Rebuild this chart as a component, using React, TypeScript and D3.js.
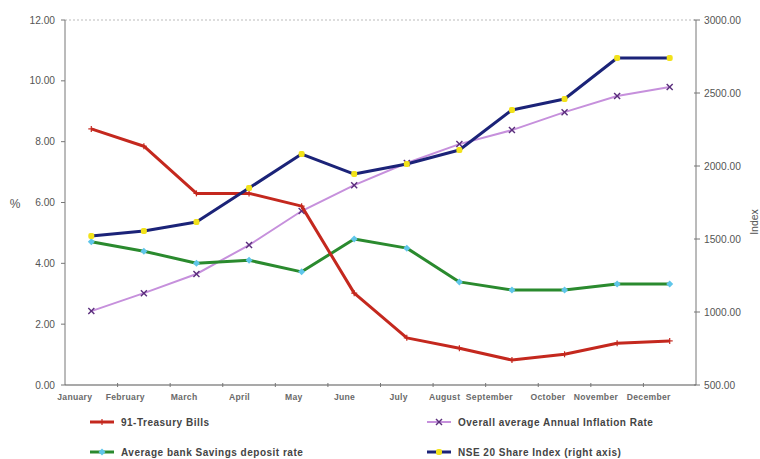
import React from "react";
import * as d3 from "d3";

const months = ["January", "February", "March", "April", "May", "June", "July", "August", "September", "October", "November", "December"];
const treasuryBills = [8.42, 7.85, 6.3, 6.3, 5.88, 3.02, 1.55, 1.21, 0.82, 1.01, 1.37, 1.45];
const inflationRate = [2.43, 3.02, 3.65, 4.6, 5.72, 6.57, 7.3, 7.92, 8.38, 8.97, 9.5, 9.8];
const savingsRate = [4.71, 4.4, 4.0, 4.1, 3.72, 4.8, 4.5, 3.39, 3.12, 3.12, 3.32, 3.32];
const nseIndex = [1521, 1555, 1616, 1849, 2082, 1945, 2014, 2110, 2384, 2459, 2740, 2740];
const leftTicks = [0, 2, 4, 6, 8, 10, 12];
const rightTicks = [500, 1000, 1500, 2000, 2500, 3000];

const W = 760;
const H = 459;
const M = { left: 65, right: 696, top: 20, bottom: 385 };
const FONT = "'Liberation Sans', Arial, sans-serif";

const RED = "#c4281e";
const GREEN = "#2a8a2e";
const NAVY = "#1b2378";
const LAVENDER = "#c690dc";
const PLUM = "#5b2f7d";
const CYAN = "#5fc6ea";
const YELLOW = "#f2e21a";

export default function App() {
  const x = d3.scaleBand<string>().domain(months).range([M.left, M.right]);
  const cx = (m: string) => (x(m) ?? 0) + x.bandwidth() / 2;
  const yL = d3.scaleLinear().domain([0, 12]).range([M.bottom, M.top]);
  const yR = d3.scaleLinear().domain([500, 3000]).range([M.bottom, M.top]);

  const lineL = d3
    .line<number>()
    .x((_, i) => cx(months[i]))
    .y((d) => yL(d));
  const lineR = d3
    .line<number>()
    .x((_, i) => cx(months[i]))
    .y((d) => yR(d));

  const plus = (px: number, py: number, c: string, k: string) => (
    <g key={k} stroke={c} strokeWidth={1.2}>
      <line x1={px - 3} x2={px + 3} y1={py} y2={py} />
      <line x1={px} x2={px} y1={py - 3} y2={py + 3} />
    </g>
  );
  const cross = (px: number, py: number, c: string, k: string) => (
    <g key={k} stroke={c} strokeWidth={1.4}>
      <line x1={px - 3} x2={px + 3} y1={py - 3} y2={py + 3} />
      <line x1={px - 3} x2={px + 3} y1={py + 3} y2={py - 3} />
    </g>
  );
  const diamond = (px: number, py: number, c: string, k: string) => (
    <path key={k} d={`M${px},${py - 3.5}L${px + 3.5},${py}L${px},${py + 3.5}L${px - 3.5},${py}Z`} fill={c} />
  );
  const dot = (px: number, py: number, c: string, k: string) => (
    <rect key={k} x={px - 3} y={py - 3} width={6} height={6} rx={2} fill={c} />
  );

  const tickText = { fontFamily: FONT, fontSize: 10.2, fill: "#555" } as const;
  const legendText = { fontFamily: FONT, fontSize: 10, fontWeight: 700, fill: "#444", letterSpacing: 0.5 } as const;

  const legend = [
    { label: "91-Treasury Bills", x: 90, y: 422, color: RED, width: 3, mark: (px: number, py: number) => plus(px, py, RED, "l1") },
    { label: "Overall average Annual Inflation Rate", x: 427, y: 422, color: LAVENDER, width: 2, mark: (px: number, py: number) => cross(px, py, PLUM, "l2") },
    { label: "Average bank Savings deposit rate", x: 90, y: 452, color: GREEN, width: 3, mark: (px: number, py: number) => diamond(px, py, CYAN, "l3") },
    { label: "NSE 20 Share Index (right axis)", x: 427, y: 452, color: NAVY, width: 3, mark: (px: number, py: number) => dot(px, py, YELLOW, "l4") },
  ];

  return (
    <svg width={W} height={H} style={{ position: "absolute", left: 0, top: 0, background: "#fff" }}>
      <rect width={W} height={H} fill="#fff" />
      {/* frame */}
      <line x1={M.left} x2={M.right} y1={M.top} y2={M.top} stroke="#aaa" strokeWidth={0.8} strokeDasharray="2,2" />
      <line x1={M.left} x2={M.left} y1={M.top} y2={M.bottom} stroke="#777" strokeWidth={1} />
      <line x1={M.right} x2={M.right} y1={M.top} y2={M.bottom} stroke="#777" strokeWidth={1} />
      <line x1={M.left} x2={M.right} y1={M.bottom} y2={M.bottom} stroke="#555" strokeWidth={1.2} />

      {/* left axis */}
      {leftTicks.map((t) => (
        <g key={`lt${t}`}>
          <line x1={M.left - 4} x2={M.left} y1={yL(t)} y2={yL(t)} stroke="#777" />
          <text x={M.left - 10} y={yL(t) + 3.5} textAnchor="end" {...tickText}>
            {t.toFixed(2)}
          </text>
        </g>
      ))}
      <text x={15} y={208} textAnchor="middle" fontFamily={FONT} fontSize={12} fill="#555">
        %
      </text>

      {/* right axis */}
      {rightTicks.map((t) => (
        <g key={`rt${t}`}>
          <line x1={M.right - 2} x2={M.right + 4} y1={yR(t)} y2={yR(t)} stroke="#777" />
          <text x={M.right + 8} y={yR(t) + 3.5} textAnchor="start" {...tickText}>
            {t.toFixed(2)}
          </text>
        </g>
      ))}
      <text transform="translate(758,222) rotate(-90)" textAnchor="middle" fontFamily={FONT} fontSize={10.5} fill="#555">
        Index
      </text>

      {/* category axis */}
      {months.map((m, i) => (
        <g key={`m${m}`}>
          {i > 0 && <line x1={x(m)} x2={x(m)} y1={M.bottom - 2} y2={M.bottom + 2} stroke="#777" />}
          <text x={cx(m) + 1} y={400} textAnchor="end" fontFamily={FONT} fontSize={8.6} fontWeight={700} fill="#6a6a6a" letterSpacing={0.3}>
            {m}
          </text>
        </g>
      ))}

      {/* series */}
      <path d={lineL(inflationRate) ?? ""} fill="none" stroke={LAVENDER} strokeWidth={2} />
      {inflationRate.map((v, i) => cross(cx(months[i]), yL(v), PLUM, `c${i}`))}

      <path d={lineL(savingsRate) ?? ""} fill="none" stroke={GREEN} strokeWidth={3} strokeLinejoin="round" />
      {savingsRate.map((v, i) => diamond(cx(months[i]), yL(v), CYAN, `d${i}`))}

      <path d={lineL(treasuryBills) ?? ""} fill="none" stroke={RED} strokeWidth={3} strokeLinejoin="round" />
      {treasuryBills.map((v, i) => plus(cx(months[i]), yL(v), RED, `p${i}`))}

      <path d={lineR(nseIndex) ?? ""} fill="none" stroke={NAVY} strokeWidth={3} strokeLinejoin="round" />
      {nseIndex.map((v, i) => dot(cx(months[i]), yR(v), YELLOW, `s${i}`))}

      {/* legend */}
      {legend.map((l) => (
        <g key={l.label}>
          <line x1={l.x} x2={l.x + 24} y1={l.y} y2={l.y} stroke={l.color} strokeWidth={l.width} />
          {l.mark(l.x + 12, l.y)}
          <text x={l.x + 31} y={l.y + 3.5} {...legendText}>
            {l.label}
          </text>
        </g>
      ))}
    </svg>
  );
}
